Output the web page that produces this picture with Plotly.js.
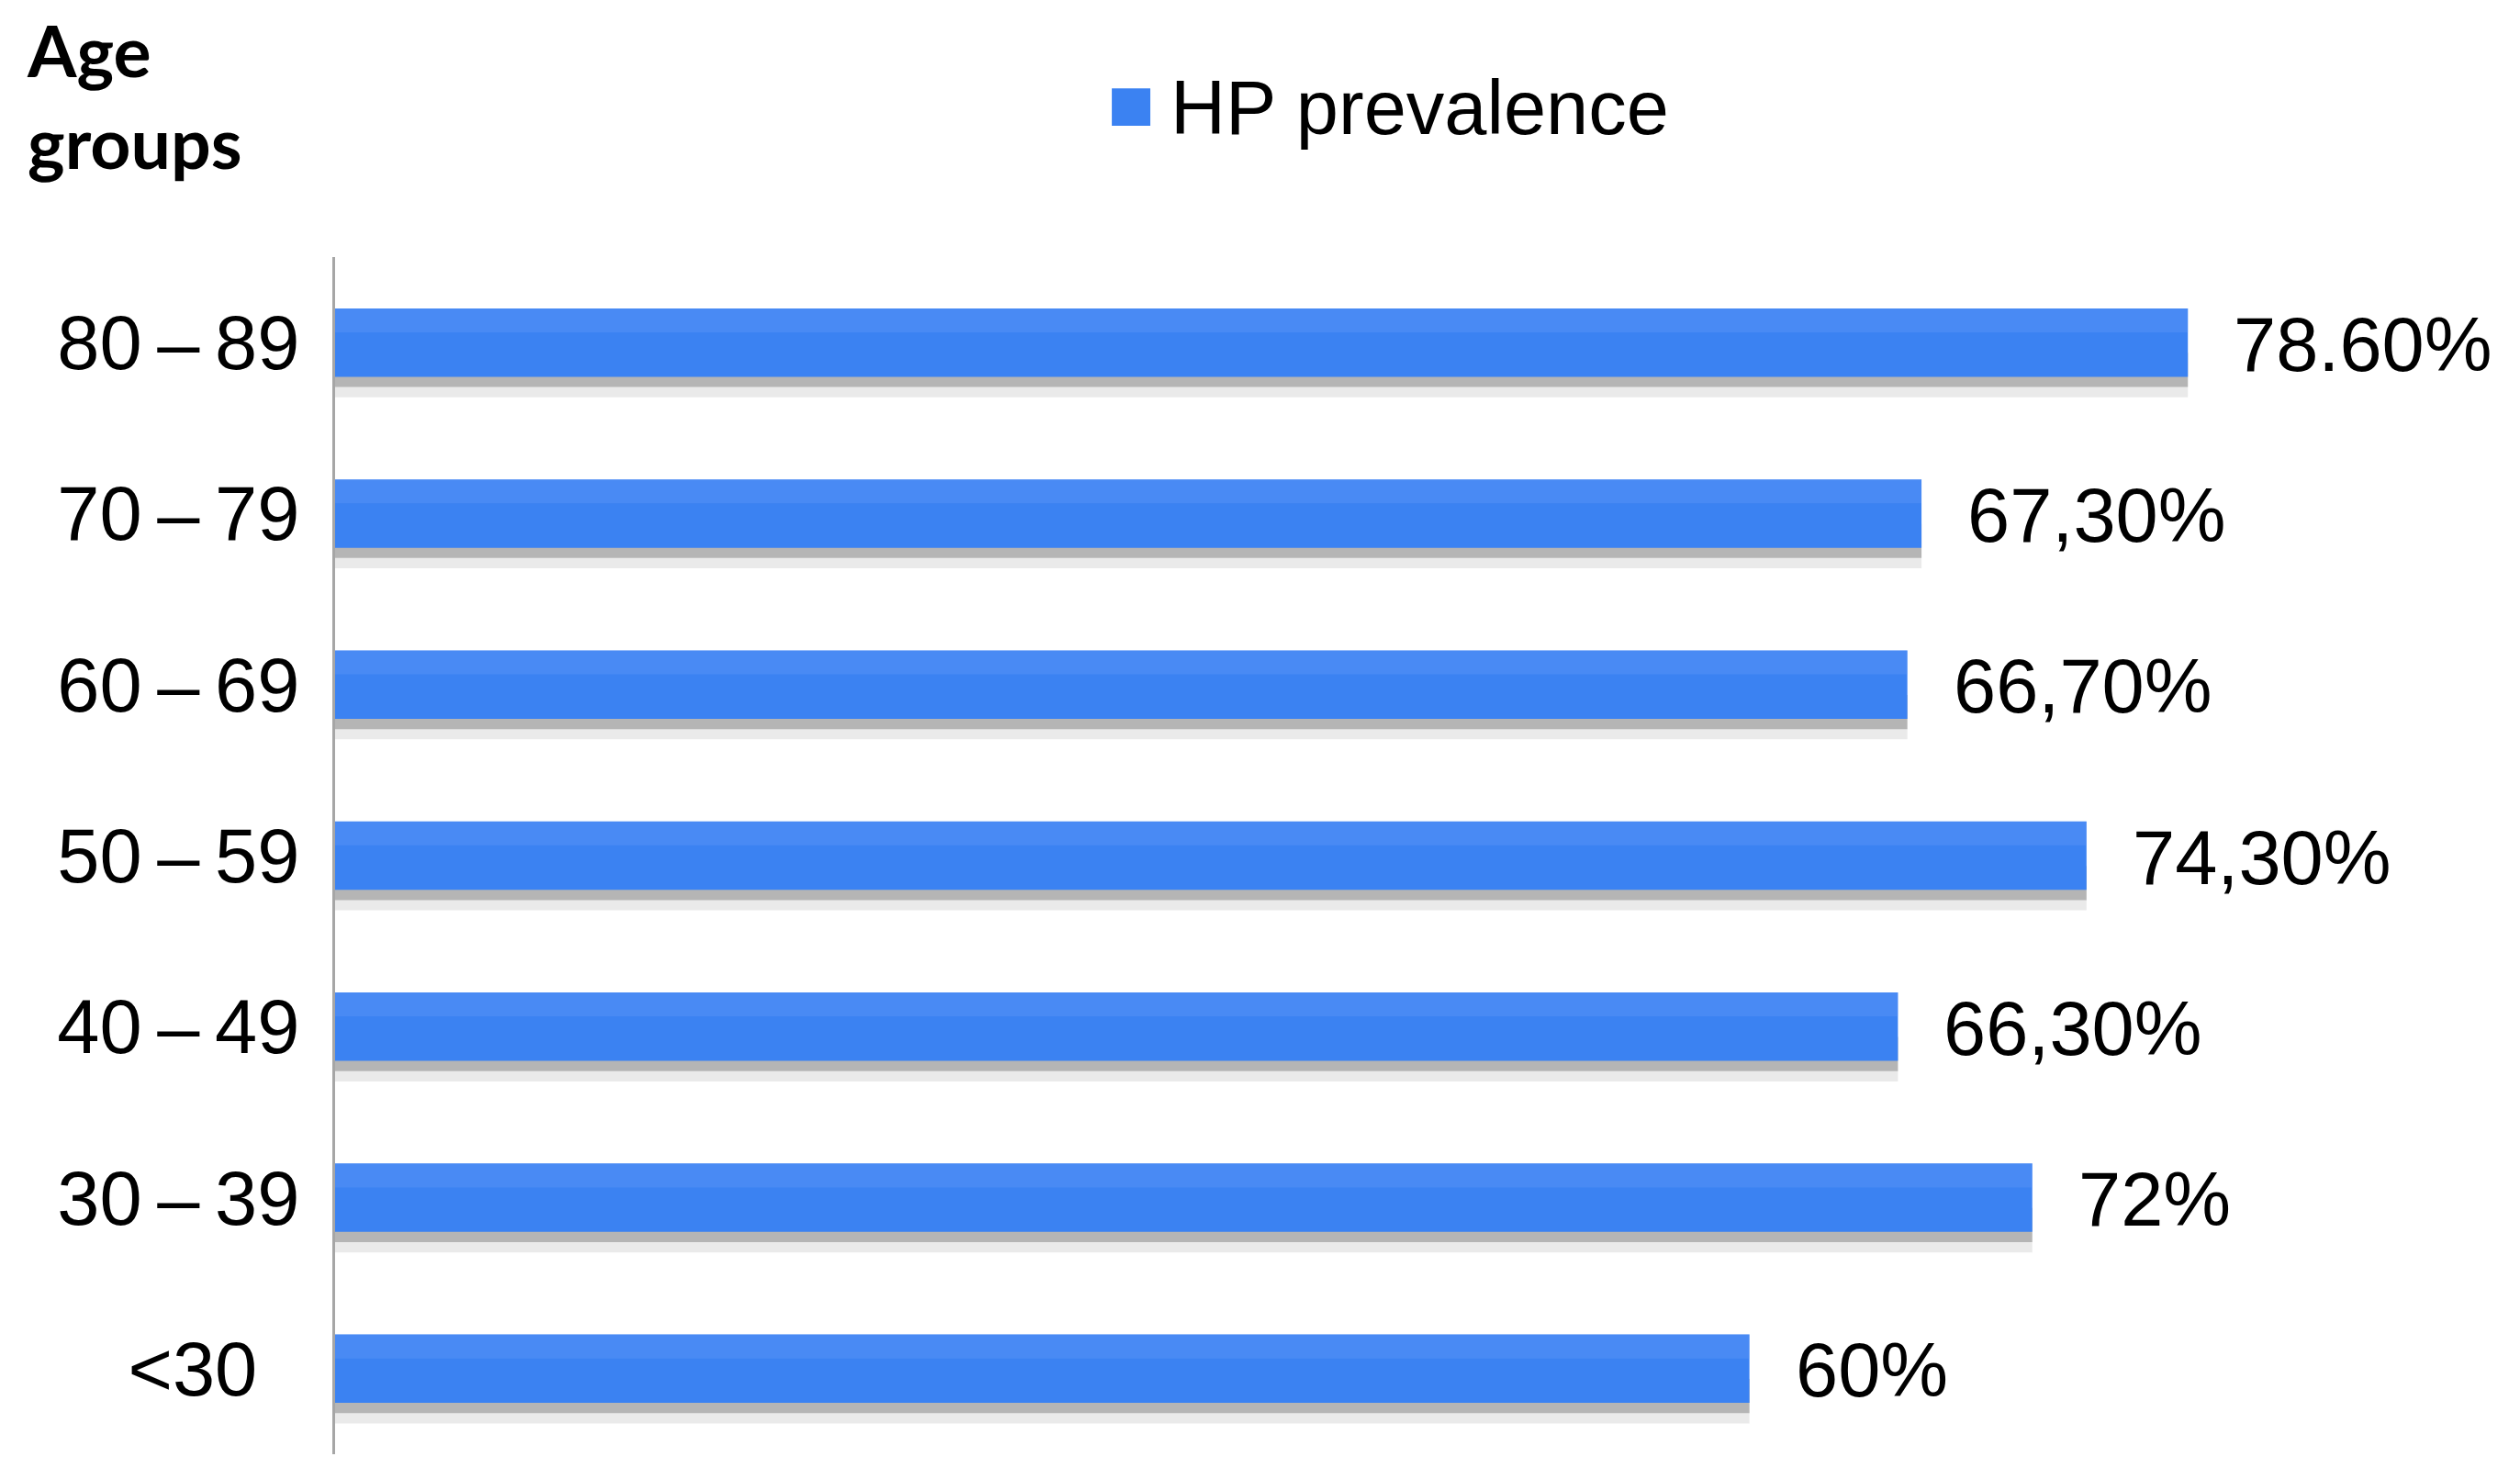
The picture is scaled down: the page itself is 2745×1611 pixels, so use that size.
<!DOCTYPE html>
<html>
<head>
<meta charset="utf-8">
<script src="https://cdn.plot.ly/plotly-3.0.1.min.js"></script>
<style>html,body{margin:0;padding:0;background:#fff;}#chart{width:2745px;height:1611px;}</style>
</head>
<body>
<div id="chart"></div>
<script>
// ---- data ----
const categories = ['<30', '30–39', '40–49', '50–59', '60–69', '70–79', '80–89'];
const tickLabels = ['<30\u00a0\u00a0', '30\u2009–\u200939', '40\u2009–\u200949', '50\u2009–\u200959', '60\u2009–\u200969', '70\u2009–\u200979', '80\u2009–\u200989'];
const prevalence = [60, 72, 66.3, 74.3, 66.7, 67.3, 78.6];
const valueLabels = ['60%', '72%', '66,30%', '74,30%', '66,70%', '67,30%', '78.60%'];
const seriesName = 'HP prevalence';
const axisTitle = 'Age<br>groups';

const ARIAL = 'Liberation Sans, Arial, sans-serif';
const BAR = '#3b82f2';

const shadowSoft = {
  type: 'bar', orientation: 'h', y: categories, x: prevalence,
  width: 0.26, offset: -0.32,
  marker: {color: 'rgba(140,140,140,0.18)', line: {width: 0}},
  hoverinfo: 'skip', showlegend: false
};
const shadowDark = {
  type: 'bar', orientation: 'h', y: categories, x: prevalence,
  width: 0.2, offset: -0.26,
  marker: {color: 'rgba(95,95,95,0.38)', line: {width: 0}},
  hoverinfo: 'skip', showlegend: false
};
const main = {
  type: 'bar', orientation: 'h', name: seriesName, y: categories, x: prevalence,
  width: 0.40,
  marker: {color: BAR, line: {width: 0}},
  showlegend: false
};
const highlight = {
  type: 'bar', orientation: 'h', y: categories, x: prevalence,
  width: 0.14, offset: 0.06,
  marker: {color: 'rgba(110,160,250,0.28)', line: {width: 0}},
  hoverinfo: 'skip', showlegend: false
};

const annotations = prevalence.map((v, i) => ({
  x: v, y: categories[i], xref: 'x', yref: 'y',
  text: valueLabels[i], showarrow: false,
  xanchor: 'left', yanchor: 'middle', xshift: 48, yshift: -2,
  font: {family: ARIAL, size: 83, color: '#000'}
}));
// legend text
annotations.push({
  xref: 'paper', yref: 'paper', x: 0.3831, y: 1.125,
  xanchor: 'left', yanchor: 'middle', showarrow: false,
  text: seriesName, font: {family: ARIAL, size: 83, color: '#000'}
});
// axis title
annotations.push({
  xref: 'paper', yref: 'paper', x: -0.1425, y: 1.210,
  xanchor: 'left', yanchor: 'top', align: 'left', showarrow: false,
  text: axisTitle, font: {family: 'Lato, sans-serif', size: 77, color: '#000', weight: 'bold'}
});

const layout = {
  width: 2745, height: 1611,
  paper_bgcolor: '#fff', plot_bgcolor: '#fff',
  margin: {l: 365, r: 10, t: 280, b: 27},
  barmode: 'overlay',
  showlegend: false,
  xaxis: {
    range: [0, 92.3], showgrid: false, zeroline: false, showline: false,
    showticklabels: false, ticks: ''
  },
  yaxis: {
    type: 'category', categoryorder: 'array', categoryarray: categories,
    range: [-0.5, 6.5],
    tickmode: 'array', tickvals: categories, ticktext: tickLabels,
    showgrid: false, zeroline: false,
    showline: true, linecolor: '#a6a6a6', linewidth: 3,
    ticks: '', ticklabelstandoff: 19,
    tickfont: {family: ARIAL, size: 83, color: '#000'}
  },
  shapes: [{
    type: 'rect', xref: 'paper', yref: 'paper',
    x0: 0.357, x1: 0.3747, y0: 1.1097, y1: 1.141,
    fillcolor: BAR, line: {width: 0}
  }],
  annotations: annotations
};

Plotly.newPlot('chart', [shadowSoft, shadowDark, main, highlight], layout, {displayModeBar: false, staticPlot: true});
</script>
</body>
</html>
